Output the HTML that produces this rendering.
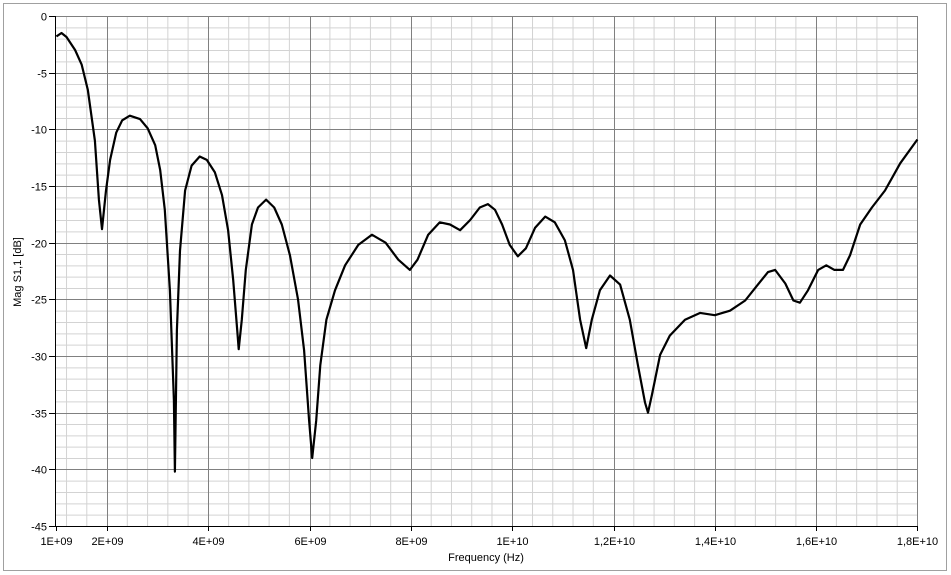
<!DOCTYPE html>
<html><head><meta charset="utf-8"><style>
html,body{margin:0;padding:0;background:#fff;}
svg{display:block;font-family:"Liberation Sans",sans-serif;}
</style></head><body>
<svg id="chart" width="951" height="575">
<rect x="3.5" y="3.5" width="943" height="567" fill="#fff" stroke="#a0a0a0"/>
<g id="grid"></g><g id="axes"></g><g id="series"></g>
<text x="21" y="272" font-size="11" text-anchor="middle" transform="rotate(-90 21 272)">Mag S1,1 [dB]</text>
<text x="486" y="561" font-size="11" text-anchor="middle">Frequency (Hz)</text>
</svg>
<script>
const freqGHz=[1.0,1.1,1.2,1.37,1.5,1.62,1.76,1.84,1.9,1.98,2.06,2.18,2.3,2.45,2.65,2.8,2.95,3.05,3.14,3.24,3.32,3.34,3.38,3.44,3.54,3.67,3.83,3.97,4.13,4.27,4.39,4.49,4.57,4.6,4.66,4.74,4.86,4.98,5.14,5.3,5.45,5.61,5.77,5.89,5.99,6.05,6.13,6.21,6.33,6.5,6.7,6.96,7.23,7.5,7.75,7.98,8.13,8.34,8.57,8.77,8.97,9.17,9.36,9.52,9.66,9.8,9.95,10.11,10.27,10.45,10.65,10.84,11.04,11.2,11.34,11.46,11.57,11.73,11.93,12.13,12.32,12.48,12.62,12.68,12.76,12.92,13.11,13.41,13.71,14.0,14.3,14.6,14.85,15.05,15.19,15.39,15.55,15.68,15.84,16.04,16.2,16.36,16.53,16.67,16.87,17.1,17.36,17.66,18.0];
const magDB=[-1.8,-1.5,-1.85,-3.0,-4.3,-6.5,-11,-16.2,-18.8,-15.4,-12.7,-10.3,-9.2,-8.8,-9.1,-9.9,-11.4,-13.6,-17.1,-24.2,-33.9,-40.2,-27.7,-20.7,-15.4,-13.2,-12.4,-12.7,-13.8,-15.8,-18.9,-23.3,-27.7,-29.4,-26.8,-22.4,-18.4,-16.9,-16.2,-16.9,-18.4,-21.1,-25,-29.5,-35.7,-39,-35.7,-30.8,-26.8,-24.2,-22,-20.2,-19.3,-20,-21.5,-22.4,-21.5,-19.3,-18.2,-18.4,-18.9,-18,-16.9,-16.6,-17.1,-18.4,-20.2,-21.2,-20.5,-18.7,-17.7,-18.2,-19.8,-22.4,-26.8,-29.3,-26.8,-24.2,-22.9,-23.7,-26.8,-30.8,-34.1,-35,-33.4,-29.9,-28.2,-26.8,-26.2,-26.4,-26,-25.1,-23.7,-22.6,-22.4,-23.6,-25.1,-25.3,-24.2,-22.4,-22,-22.4,-22.4,-21.1,-18.4,-16.9,-15.4,-13,-10.9];
const xTickValsGHz=[1,2,4,6,8,10,12,14,16,18];
const xTickLabels=["1E+09","2E+09","4E+09","6E+09","8E+09","1E+10","1,2E+10","1,4E+10","1,6E+10","1,8E+10"];
const yTickVals=[0,-5,-10,-15,-20,-25,-30,-35,-40,-45];
const NS="http://www.w3.org/2000/svg";
const L=55,R=918,T=16,B=526;
const xS=g=>56.4+(g-1)*50.65;
const yS=v=>T+(-v)*(B-T)/45;
function mk(t,a,p){const e=document.createElementNS(NS,t);for(const k in a)e.setAttribute(k,a[k]);p.appendChild(e);return e;}
const grid=document.getElementById('grid'),axes=document.getElementById('axes'),ser=document.getElementById('series');
mk('rect',{x:L,y:T,width:R-L,height:B-T,fill:'#fff'},grid);
for(let g=2-0.4*2;g<=18.01;g+=0.4){if(Math.abs(g-Math.round(g/2)*2)<0.01)continue;const x=xS(g);if(x<L||x>R)continue;
const l=mk('line',{x1:x,x2:x,y1:T,y2:B,stroke:'#d3d3d3'},grid);

}
for(let v=0;v>=-45;v--){if(v%5===0)continue;const y=yS(v)+0.5;
const l=mk('line',{x1:L,x2:R,y1:y,y2:y,stroke:'#d3d3d3'},grid);

}
yTickVals.forEach(v=>{const y=Math.round(yS(v))+0.5;
const l=mk('line',{x1:L,x2:R,y1:y,y2:y,stroke:'#808080'},grid);


mk('line',{x1:49,x2:L,y1:y,y2:y,stroke:'#000'},axes);
const t=mk('text',{x:47,y:y+4,'font-size':11,'text-anchor':'end'},axes);t.textContent=String(v).replace('-','-');

});
xTickValsGHz.forEach((g,i)=>{const x=Math.round(xS(g))+0.5;
if(i>0){const l=mk('line',{x1:x,x2:x,y1:T,y2:B,stroke:'#808080'},grid);

}
mk('line',{x1:x,x2:x,y1:B,y2:B+5,stroke:'#000'},axes);
const t=mk('text',{x:x,y:545,'font-size':11,'text-anchor':'middle'},axes);t.textContent=xTickLabels[i];

});
mk('rect',{x:L+0.5,y:T+0.5,width:R-L-1,height:B-T,fill:'none',stroke:'#808080'},grid);
mk('line',{x1:L+0.5,x2:L+0.5,y1:T,y2:B+1,stroke:'#000'},axes);
mk('line',{x1:L,x2:R,y1:B+0.5,y2:B+0.5,stroke:'#000'},axes);
const d=freqGHz.map((g,i)=>(i?'L':'M')+xS(g).toFixed(1)+','+yS(magDB[i]).toFixed(1)).join(' ');
const p=mk('path',{d:d,fill:'none',stroke:'#000','stroke-width':2.2,'stroke-linejoin':'round'},ser);


</script>
</body></html>
